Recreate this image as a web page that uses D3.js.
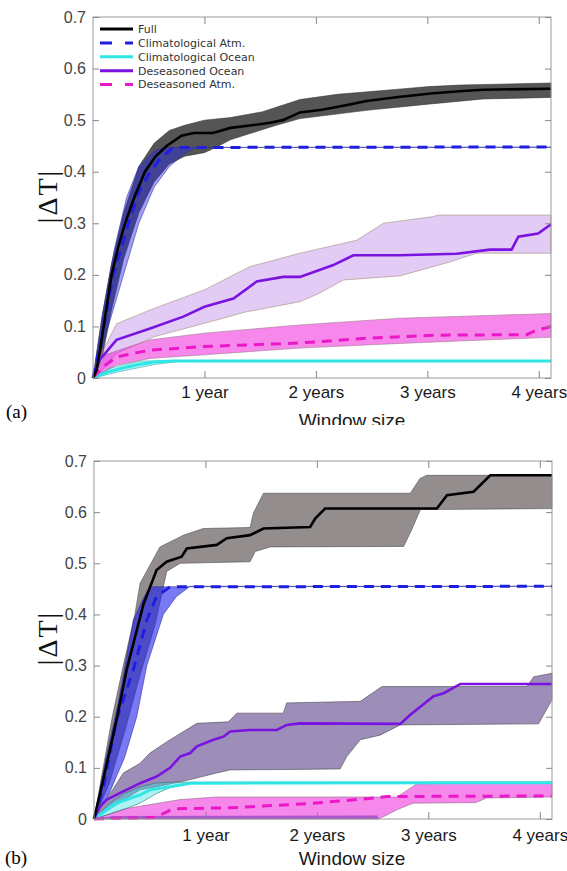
<!DOCTYPE html>
<html>
<head>
<meta charset="utf-8">
<script src="https://cdn.jsdelivr.net/npm/d3@7"></script>
<style>
  body { margin: 0; background: #fff; }
  svg { display: block; }
</style>
</head>
<body>
<svg width="567" height="871"></svg>
<script>
// window size in days, |dT| values

// ---- panel (a)
const fullMeanA = [[0,0],[12,0.016],[23,0.054],[40,0.12],[61,0.2],[83,0.255],[105,0.3],[135,0.35],[170,0.4],[205,0.43],[241,0.45],[290,0.47],[330,0.475],[393,0.475],[450,0.485],[520,0.49],[580,0.495],[622,0.5],[678,0.515],[750,0.52],[820,0.528],[896,0.537],[1000,0.545],[1115,0.552],[1200,0.556],[1278,0.559],[1500,0.561]];
const fullLoA = [[0,0],[30,0.04],[60,0.13],[100,0.23],[150,0.32],[200,0.38],[250,0.415],[300,0.43],[365,0.437],[405,0.448],[450,0.462],[514,0.474],[600,0.49],[678,0.503],[896,0.519],[1115,0.532],[1278,0.541],[1500,0.544]];
const fullHiA = [[0,0],[30,0.12],[60,0.22],[100,0.32],[150,0.41],[200,0.455],[250,0.48],[300,0.49],[365,0.5],[450,0.505],[553,0.516],[678,0.54],[800,0.55],[900,0.555],[1000,0.56],[1100,0.565],[1200,0.568],[1500,0.572]];

const climAtmMeanA = [[0,0],[30,0.08],[66,0.2],[116,0.3],[150,0.36],[187,0.4],[220,0.425],[263,0.447],[1500,0.448]];
const climAtmLoA = [[0,0],[50,0.1],[100,0.2],[150,0.3],[200,0.37],[250,0.41],[300,0.435],[340,0.447],[1500,0.447]];
const climAtmHiA = [[0,0],[30,0.12],[70,0.25],[110,0.35],[150,0.41],[200,0.44],[230,0.447],[1500,0.448]];

const climOcMeanA = [[0,0],[50,0.012],[100,0.02],[150,0.026],[200,0.031],[260,0.033],[1500,0.033]];
const climOcLoA = [[0,0],[100,0.014],[200,0.026],[280,0.032],[1500,0.032]];
const climOcHiA = [[0,0],[50,0.018],[100,0.026],[160,0.033],[1500,0.034]];

const desOcMeanA = [[0,0],[23,0.036],[77,0.074],[187,0.096],[296,0.119],[365,0.138],[460,0.154],[536,0.187],[623,0.196],[678,0.196],[787,0.219],[853,0.238],[1005,0.238],[1191,0.241],[1300,0.249],[1371,0.249],[1393,0.274],[1458,0.28],[1500,0.298]];
const desOcLoA = [[0,0],[30,0.015],[77,0.048],[200,0.08],[365,0.106],[500,0.128],[678,0.148],[740,0.164],[820,0.19],[1005,0.198],[1169,0.225],[1256,0.242],[1500,0.242]];
const desOcHiA = [[0,0],[30,0.05],[77,0.105],[187,0.132],[365,0.171],[514,0.216],[678,0.242],[863,0.267],[951,0.3],[1115,0.313],[1130,0.316],[1500,0.316]];

const desAtmMeanA = [[0,0],[30,0.02],[77,0.041],[187,0.054],[365,0.061],[678,0.068],[896,0.077],[1115,0.083],[1420,0.084],[1450,0.092],[1500,0.1]];
const desAtmLoA = [[0,0],[77,0.025],[187,0.038],[365,0.045],[678,0.058],[1005,0.067],[1500,0.079]];
const desAtmHiA = [[0,0],[40,0.045],[187,0.074],[365,0.087],[678,0.103],[1005,0.116],[1500,0.125]];

// ---- panel (b)
const fullMeanB = [[0,0],[20,0.05],[74,0.194],[107,0.292],[162,0.42],[205,0.487],[238,0.503],[287,0.513],[304,0.529],[402,0.536],[435,0.549],[511,0.555],[555,0.568],[708,0.571],[725,0.588],[757,0.607],[1123,0.607],[1156,0.633],[1243,0.64],[1298,0.672],[1500,0.672]];
const fullLoB = [[0,0],[50,0.07],[100,0.17],[150,0.28],[200,0.38],[238,0.484],[282,0.5],[511,0.503],[528,0.523],[577,0.532],[1014,0.533],[1040,0.565],[1069,0.605],[1500,0.607]];
const fullHiB = [[0,0],[30,0.1],[60,0.2],[96,0.3],[134,0.4],[151,0.461],[216,0.532],[293,0.555],[358,0.568],[511,0.57],[522,0.598],[555,0.637],[1036,0.637],[1068,0.666],[1090,0.672],[1500,0.672]];

const climAtmMeanB = [[0,0],[31,0.064],[74,0.194],[129,0.292],[173,0.389],[205,0.435],[249,0.454],[1500,0.455]];
const climAtmLoB = [[0,0],[50,0.05],[100,0.12],[140,0.2],[173,0.3],[227,0.4],[270,0.435],[315,0.455],[1500,0.455]];
const climAtmHiB = [[0,0],[40,0.12],[80,0.23],[129,0.389],[160,0.43],[183,0.454],[1500,0.455]];

const climOcMeanB = [[0,0],[42,0.018],[74,0.031],[151,0.047],[183,0.057],[260,0.064],[315,0.07],[1500,0.071]];
const climOcLoB = [[0,0],[95,0.018],[151,0.031],[205,0.05],[260,0.064],[315,0.07],[1500,0.07]];
const climOcHiB = [[0,0],[50,0.03],[100,0.05],[150,0.063],[200,0.07],[250,0.072],[1500,0.072]];

const desOcMeanB = [[0,0],[20,0.025],[42,0.038],[96,0.054],[151,0.07],[205,0.083],[249,0.1],[282,0.122],[315,0.129],[337,0.142],[391,0.155],[424,0.161],[446,0.171],[511,0.174],[599,0.174],[631,0.184],[675,0.187],[1003,0.186],[1036,0.204],[1112,0.24],[1145,0.246],[1200,0.264],[1500,0.264]];
const desOcLoB = [[0,0],[151,0.057],[238,0.067],[315,0.077],[402,0.09],[446,0.096],[675,0.097],[806,0.098],[828,0.122],[872,0.155],[937,0.164],[1003,0.184],[1456,0.186],[1500,0.233]];
const desOcHiB = [[0,0],[96,0.09],[151,0.109],[183,0.129],[249,0.155],[337,0.187],[440,0.19],[468,0.207],[620,0.207],[631,0.227],[872,0.23],[943,0.259],[1418,0.259],[1440,0.278],[1500,0.285]];

const desAtmMeanB = [[0,0],[200,0.003],[260,0.02],[450,0.022],[700,0.03],[900,0.04],[960,0.044],[1500,0.045]];
const desAtmLoB = [[0,0],[932,0],[960,0.008],[992,0.018],[1046,0.031],[1250,0.032],[1286,0.041],[1500,0.043]];
const desAtmHiB = [[0,0],[100,0.02],[282,0.038],[400,0.043],[992,0.043],[1058,0.069],[1500,0.071]];
const desAtmStripB = [[0,0],[60,0.006],[928,0.007],[932,0]];

// ---- axes / legend
const yTicks = [0, 0.1, 0.2, 0.3, 0.4, 0.5, 0.6, 0.7];
const xTickDays = [365, 730, 1095, 1460];
const xTickLabels = ['1 year', '2 years', '3 years', '4 years'];
const seriesNames = ['Full', 'Climatological Atm.', 'Climatological Ocean', 'Deseasoned Ocean', 'Deseasoned Atm.'];

const lineColors = ['#000000', '#1f1fe0', '#2ee6e6', '#7a12e0', '#ea18c8'];
const lineDash = [null, '10,7', null, null, '10,7'];
const lineWidth = [2.6, 3, 3, 2.6, 3];

let svg = d3.select('svg');

function drawPanel(opt) {
  let g = svg.append('g');
  if (opt.clipY) {
    svg.append('clipPath').attr('id', opt.id + '-clip')
      .append('rect').attr('x', 0).attr('y', 0).attr('width', 567).attr('height', opt.clipY);
    g.attr('clip-path', `url(#${opt.id}-clip)`);
  }

  let x = d3.scaleLinear().domain([0, 1500]).range([opt.left, opt.right]);
  let y = d3.scaleLinear().domain([0, 0.7]).range([opt.bottom, opt.top]);
  let line = d3.line().x(d => x(d[0])).y(d => y(d[1]));

  // bands (upper edge forward, lower edge back)
  opt.bands.forEach(b => {
    g.append('path')
      .attr('d', line(b.hi.concat(b.lo.slice().reverse())) + 'Z')
      .attr('fill', b.fill)
      .attr('fill-opacity', b.op)
      .attr('stroke', b.edge)
      .attr('stroke-width', 0.7)
      .attr('stroke-opacity', 0.8);
  });

  // mean lines, drawn back to front
  [2, 4, 3, 1, 0].forEach(i => {
    g.append('path')
      .attr('d', line(opt.means[i]))
      .attr('fill', 'none')
      .attr('stroke', lineColors[i])
      .attr('stroke-width', lineWidth[i])
      .attr('stroke-dasharray', lineDash[i]);
  });

  // box
  g.append('rect')
    .attr('x', opt.left).attr('y', opt.top)
    .attr('width', opt.right - opt.left).attr('height', opt.bottom - opt.top)
    .attr('fill', 'none').attr('stroke', '#9a9a9a').attr('stroke-width', 1);

  // ticks inside on all sides
  let bottomAxis = g.append('g').attr('transform', `translate(0,${opt.bottom})`)
    .call(d3.axisBottom(x).tickValues(xTickDays).tickFormat((d, i) => xTickLabels[i])
      .tickSizeInner(-7).tickSizeOuter(0).tickPadding(opt.xPad));
  bottomAxis.selectAll('text')
    .attr('font-family', '"Liberation Sans", Arial, sans-serif')
    .attr('font-size', 17).attr('fill', '#1a1a1a');

  let leftAxis = g.append('g').attr('transform', `translate(${opt.left},0)`)
    .call(d3.axisLeft(y).tickValues(yTicks).tickFormat(d => d === 0 ? '0' : d3.format('.1f')(d))
      .tickSizeInner(-6).tickSizeOuter(0).tickPadding(7));
  leftAxis.selectAll('text')
    .attr('font-family', '"Liberation Sans", Arial, sans-serif')
    .attr('font-size', 16).attr('fill', '#444');

  g.append('g').attr('transform', `translate(0,${opt.top})`)
    .call(d3.axisTop(x).tickValues(xTickDays).tickFormat('').tickSizeInner(-7).tickSizeOuter(0));
  g.append('g').attr('transform', `translate(${opt.right},0)`)
    .call(d3.axisRight(y).tickValues(yTicks).tickFormat('').tickSizeInner(-6).tickSizeOuter(0));

  g.selectAll('.domain').remove();
  g.selectAll('.tick line').attr('stroke', '#888');

  // axis titles
  g.append('text')
    .attr('x', 352).attr('y', opt.bottom + opt.titleGap)
    .attr('text-anchor', 'middle')
    .attr('font-family', '"Liberation Sans", Arial, sans-serif')
    .attr('font-size', 19).attr('fill', '#1a1a1a')
    .text('Window size');

  g.append('text')
    .attr('transform', `translate(${opt.ylabX},${opt.ylabY}) rotate(-90)`)
    .attr('text-anchor', 'middle')
    .attr('font-family', '"Liberation Serif", "Times New Roman", serif')
    .attr('font-size', 28).attr('letter-spacing', 2).attr('fill', '#111')
    .text('|\u0394T|');

  g.append('text')
    .attr('x', opt.tagX).attr('y', opt.tagY)
    .attr('font-family', '"Liberation Serif", "Times New Roman", serif')
    .attr('font-size', 19).attr('fill', '#000')
    .text(opt.tag);

  return g;
}

let gA = drawPanel({
  id: 'a', tag: '(a)', tagX: 6, tagY: 418, clipY: 425,
  left: 93, right: 551, top: 17, bottom: 378, xPad: 8, titleGap: 49,
  ylabX: 57, ylabY: 196,
  bands: [
    {hi: fullHiA, lo: fullLoA, fill: '#2a2a2a', op: 0.8, edge: '#333'},
    {hi: climAtmHiA, lo: climAtmLoA, fill: '#2a2ae6', op: 0.45, edge: '#3030a0'},
    {hi: desOcHiA, lo: desOcLoA, fill: '#a45ce0', op: 0.32, edge: '#a08870'},
    {hi: desAtmHiA, lo: desAtmLoA, fill: '#ee10d8', op: 0.5, edge: '#9a7a8a'},
    {hi: climOcHiA, lo: climOcLoA, fill: '#33e0e0', op: 0.35, edge: '#30a0a0'}
  ],
  means: [fullMeanA, climAtmMeanA, climOcMeanA, desOcMeanA, desAtmMeanA]
});

drawPanel({
  id: 'b', tag: '(b)', tagX: 5, tagY: 864,
  left: 94, right: 552, top: 461, bottom: 819, xPad: 10, titleGap: 46,
  ylabX: 57, ylabY: 638,
  bands: [
    {hi: fullHiB, lo: fullLoB, fill: '#5a5050', op: 0.65, edge: '#444'},
    {hi: climAtmHiB, lo: climAtmLoB, fill: '#2020f0', op: 0.6, edge: '#2a2a90'},
    {hi: desOcHiB, lo: desOcLoB, fill: '#4a3080', op: 0.55, edge: '#444'},
    {hi: desAtmHiB, lo: desAtmLoB, fill: '#ee10d8', op: 0.5, edge: '#8a6a80'},
    {hi: desAtmStripB, lo: [[0,0],[932,0]], fill: '#6a30b0', op: 0.55, edge: 'none'},
    {hi: climOcHiB, lo: climOcLoB, fill: '#33e0e0', op: 0.4, edge: '#336666'}
  ],
  means: [fullMeanB, climAtmMeanB, climOcMeanB, desOcMeanB, desAtmMeanB]
});

// legend, panel (a) only
let legend = gA.append('g').attr('transform', 'translate(100,29)');
seriesNames.forEach((name, i) => {
  let row = legend.append('g').attr('transform', `translate(0,${i * 13.9})`);
  row.append('line')
    .attr('x1', 0).attr('x2', 33).attr('y1', 0).attr('y2', 0)
    .attr('stroke', lineColors[i])
    .attr('stroke-width', 3)
    .attr('stroke-dasharray', lineDash[i] ? '12,13' : null);
  row.append('text')
    .attr('x', 38).attr('y', 0).attr('dy', '0.35em')
    .attr('font-family', '"DejaVu Sans", sans-serif')
    .attr('font-size', 11).attr('fill', '#333')
    .text(name);
});
</script>
</body>
</html>
